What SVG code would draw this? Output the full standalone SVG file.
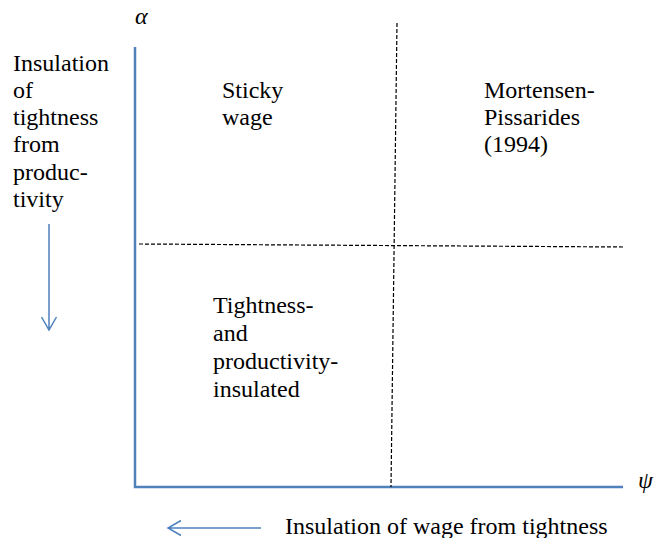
<svg xmlns="http://www.w3.org/2000/svg" width="655" height="538" viewBox="0 0 655 538">
<style>
.axis{stroke:#4F81BD;stroke-width:2.5;fill:none}
.arr{stroke:#4F81BD;stroke-width:1.5;fill:none}
.dash{stroke:#000;stroke-width:1.2;stroke-dasharray:4,2;fill:none}
</style>
<rect width="655" height="538" fill="#fff"/>
<g id="connectors">
<path class="axis" d="M135,47 V487 H623"/>
<path class="dash" d="M397,23 L391,487"/>
<path class="dash" d="M139,244 L624,247"/>
<path class="arr" d="M49,224 V330 M41.5,317 L49,330 L56.5,317"/>
<path class="arr" d="M261,528 H168 M181,520.5 L168,528 L181,535.5"/>
</g>
<g font-family="Liberation Serif, Times New Roman, serif" font-size="24" fill="#000">
<g id="alpha"><text font-style="italic" x="135" y="24">α</text></g>
<g id="psi"><text font-style="italic" x="638" y="488">ψ</text></g>
<g id="y-label"><text x="13" y="70.5">Insulation<tspan x="13" y="97.8">of</tspan><tspan x="13" y="125.1">tightness</tspan><tspan x="13" y="152.4">from</tspan><tspan x="13" y="179.7">produc-</tspan><tspan x="13" y="207">tivity</tspan></text></g>
<g id="x-label"><text x="285" y="534">Insulation of wage from tightness</text></g>
<g id="sticky"><text x="222" y="98">Sticky<tspan x="222" y="125">wage</tspan></text></g>
<g id="mp"><text x="484" y="98">Mortensen-<tspan x="484" y="125">Pissarides</tspan><tspan x="484" y="152">(1994)</tspan></text></g>
<g id="insulated"><text x="213" y="313">Tightness-<tspan x="213" y="341">and</tspan><tspan x="213" y="369">productivity-</tspan><tspan x="213" y="397">insulated</tspan></text></g>
</g>
</svg>
